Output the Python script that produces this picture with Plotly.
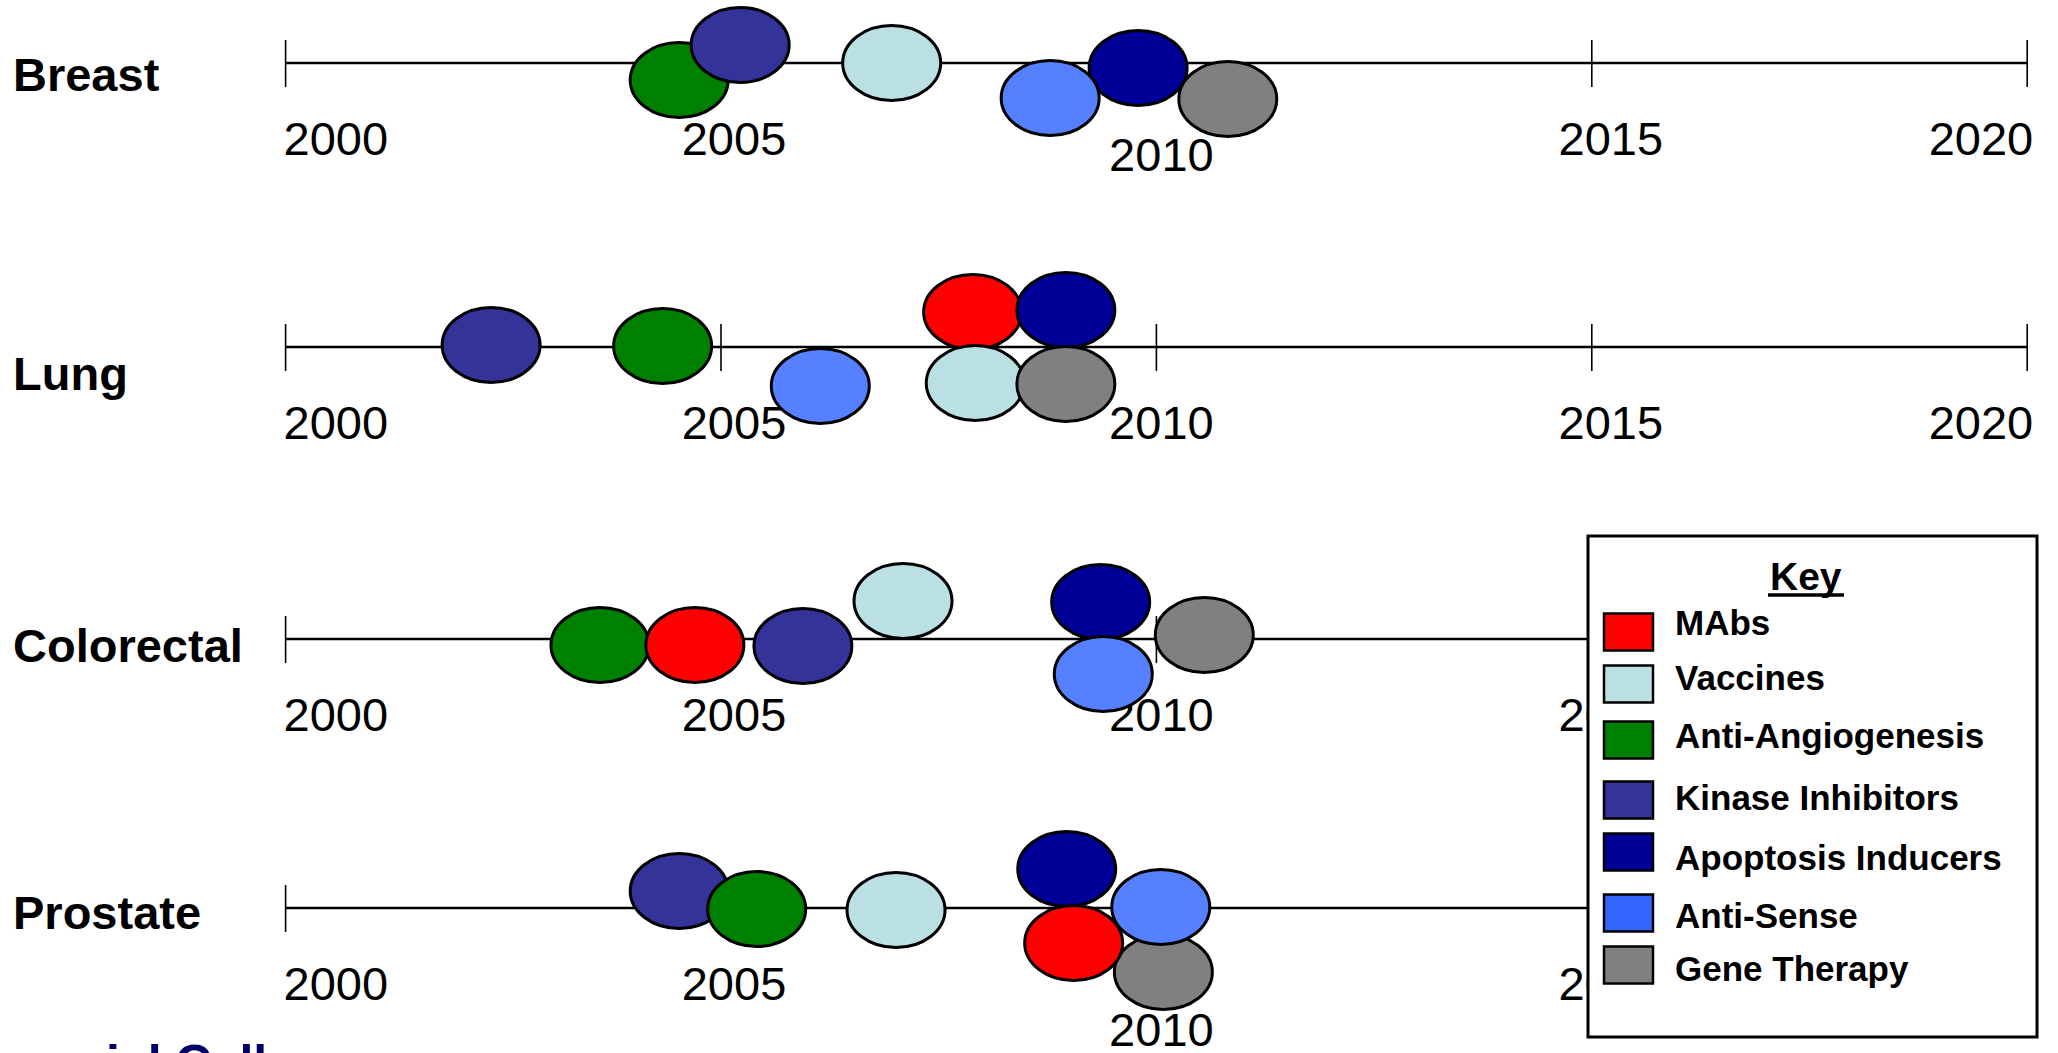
import plotly.graph_objects as go

# ---------------- data ----------------
CATEGORIES = ["MAbs", "Vaccines", "Anti-Angiogenesis", "Kinase Inhibitors",
              "Apoptosis Inducers", "Anti-Sense", "Gene Therapy"]
CANCERS = ["Breast", "Lung", "Colorectal", "Prostate"]
YEAR_TICKS = [2000, 2005, 2010, 2015, 2020]

# expected launch year of each drug class, per cancer (listed in drawing order)
BREAST_TYPES = ["Anti-Angiogenesis", "Kinase Inhibitors", "Vaccines",
                "Apoptosis Inducers", "Anti-Sense", "Gene Therapy"]
BREAST_YEARS = [2004.52, 2005.22, 2006.96, 2009.79, 2008.78, 2010.82]

LUNG_TYPES = ["Kinase Inhibitors", "Anti-Angiogenesis", "Anti-Sense", "MAbs",
              "Apoptosis Inducers", "Vaccines", "Gene Therapy"]
LUNG_YEARS = [2002.36, 2004.33, 2006.14, 2007.89, 2008.96, 2007.92, 2008.96]

COLORECTAL_TYPES = ["Anti-Angiogenesis", "MAbs", "Kinase Inhibitors", "Vaccines",
                    "Apoptosis Inducers", "Anti-Sense", "Gene Therapy"]
COLORECTAL_YEARS = [2003.61, 2004.70, 2005.94, 2007.09, 2009.36, 2009.39, 2010.55]

PROSTATE_TYPES = ["Kinase Inhibitors", "Anti-Angiogenesis", "Vaccines",
                  "Apoptosis Inducers", "Gene Therapy", "Anti-Sense", "MAbs"]
PROSTATE_YEARS = [2004.52, 2005.41, 2007.01, 2008.97, 2010.08, 2010.05, 2009.05]

# ---------------- styling / layout ----------------
FONT = "Liberation Sans, Arial, sans-serif"
FILL = {
    "MAbs": "#FF0000",
    "Vaccines": "#BBE0E3",
    "Anti-Angiogenesis": "#008000",
    "Kinase Inhibitors": "#333399",
    "Apoptosis Inducers": "#000099",
    "Anti-Sense": "#5580FF",
    "Gene Therapy": "#808080",
}
SWATCH = dict(FILL, **{"Anti-Sense": "#3366FF"})

W, H = 2058, 1053
PX_PER_YEAR = 87.08
X_2000 = 285.6
X_RANGE = [2000 - X_2000 / PX_PER_YEAR, 2000 + (W - X_2000) / PX_PER_YEAR]

ROW_Y = [63, 347, 639, 908]            # vertical position of each timeline
ROW_NAME_Y = [74.5, 374, 645, 912.5]
# vertical nudges of the bubbles away from the line (px), same order as data
BREAST_OFFSETS = [17, -18, 0, 5, 35, 36]
LUNG_OFFSETS = [-2, -1, 39, -35, -37, 36, 37]
COLORECTAL_OFFSETS = [6, 6, 7, -38, -37, 35, -4]
PROSTATE_OFFSETS = [-17, 1, 2, -39, 64, -1, 35]

KEY_BOX = (1588, 536, 2037, 1037)
LINE_END = [2020, 2020, 2000 + (KEY_BOX[0] - X_2000) / PX_PER_YEAR,
            2000 + (KEY_BOX[0] - X_2000) / PX_PER_YEAR]
ROW_TICKS = [YEAR_TICKS, YEAR_TICKS, YEAR_TICKS[:4], YEAR_TICKS[:4]]
LABEL_DROP = [{2010: 96.5}, {}, {}, {2010: 126}]
LABEL_NUDGE = {2000: -2, 2005: 13, 2010: 5, 2015: 19, 2020: 6}
LABEL_POS = {2000: "middle right", 2020: "middle left"}

ELL_W, ELL_H = 98, 75


def px(x):
    return x / W


def py(y):
    return 1 - y / H


rows = [
    (BREAST_TYPES, BREAST_YEARS, BREAST_OFFSETS),
    (LUNG_TYPES, LUNG_YEARS, LUNG_OFFSETS),
    (COLORECTAL_TYPES, COLORECTAL_YEARS, COLORECTAL_OFFSETS),
    (PROSTATE_TYPES, PROSTATE_YEARS, PROSTATE_OFFSETS),
]

fig = go.Figure()
shapes = []
annotations = []

half_w = ELL_W / 2 / PX_PER_YEAR
for i, (types, years, offsets) in enumerate(rows):
    y0 = ROW_Y[i]
    # timeline and year ticks
    shapes.append(dict(type="line", xref="x", yref="y", x0=2000, x1=LINE_END[i],
                       y0=y0, y1=y0, line=dict(color="black", width=2.5), layer="above"))
    for yr in ROW_TICKS[i]:
        if yr <= LINE_END[i]:
            shapes.append(dict(type="line", xref="x", yref="y", x0=yr, x1=yr,
                               y0=y0 - 23, y1=y0 + 24,
                               line=dict(color="black", width=1.6), layer="above"))
    # year labels
    lx, ly, lt, lp = [], [], [], []
    for yr in ROW_TICKS[i]:
        lx.append(yr + LABEL_NUDGE[yr] / PX_PER_YEAR)
        ly.append(y0 + LABEL_DROP[i].get(yr, 80.5))
        lt.append(str(yr))
        lp.append(LABEL_POS.get(yr, "middle center"))
    fig.add_trace(go.Scatter(x=lx, y=ly, mode="text", text=lt, textposition=lp,
                             textfont=dict(family=FONT, size=47, color="black"),
                             hoverinfo="skip", showlegend=False, cliponaxis=False))
    # drug-class bubbles
    for cat, yr, off in zip(types, years, offsets):
        cy = y0 + off
        shapes.append(dict(type="circle", xref="x", yref="y",
                           x0=yr - half_w, x1=yr + half_w,
                           y0=cy - ELL_H / 2, y1=cy + ELL_H / 2,
                           fillcolor=FILL[cat], line=dict(color="black", width=3),
                           layer="above"))
    # cancer name
    annotations.append(dict(text="<b>%s</b>" % CANCERS[i], xref="paper", yref="paper",
                            x=px(11), y=py(ROW_NAME_Y[i]), xanchor="left", yanchor="middle",
                            showarrow=False, font=dict(family=FONT, size=47, color="black")))

# key box
bx0, by0, bx1, by1 = KEY_BOX
shapes.append(dict(type="rect", xref="paper", yref="paper", x0=px(bx0), x1=px(bx1),
                   y0=py(by0), y1=py(by1), fillcolor="white",
                   line=dict(color="black", width=3), layer="above"))
annotations.append(dict(text="<b>Key</b>", xref="paper", yref="paper", x=px(1806), y=py(576),
                        xanchor="center", yanchor="middle", showarrow=False,
                        font=dict(family=FONT, size=39, color="black")))
shapes.append(dict(type="line", xref="paper", yref="paper", x0=px(1768), x1=px(1844),
                   y0=py(595), y1=py(595), line=dict(color="black", width=3.5), layer="above"))

SWATCH_Y = [632, 684, 740, 800, 852, 913, 965]
KEY_TEXT_Y = [623, 677, 735, 797, 857, 915, 968]
for cat, sy, ty in zip(CATEGORIES, SWATCH_Y, KEY_TEXT_Y):
    shapes.append(dict(type="rect", xref="paper", yref="paper", x0=px(1604), x1=px(1653),
                       y0=py(sy - 18.5), y1=py(sy + 18.5), fillcolor=SWATCH[cat],
                       line=dict(color="black", width=2.5), layer="above"))
    annotations.append(dict(text="<b>%s</b>" % cat, xref="paper", yref="paper",
                            x=px(1673), y=py(ty), xanchor="left", yanchor="middle",
                            showarrow=False, font=dict(family=FONT, size=35, color="black")))

# footer caption running off the bottom edge
annotations.append(dict(text="<b>ial Cell</b>", xref="paper", yref="paper",
                        x=px(104), y=py(1063), xanchor="left", yanchor="middle",
                        showarrow=False, font=dict(family=FONT, size=50, color="#000066")))

fig.update_layout(
    width=W, height=H,
    margin=dict(l=0, r=0, t=0, b=0),
    paper_bgcolor="white", plot_bgcolor="white",
    xaxis=dict(range=X_RANGE, visible=False, fixedrange=True),
    yaxis=dict(range=[H, 0], visible=False, fixedrange=True),
    shapes=shapes, annotations=annotations,
    showlegend=False,
)

fig.write_html("out.html")
